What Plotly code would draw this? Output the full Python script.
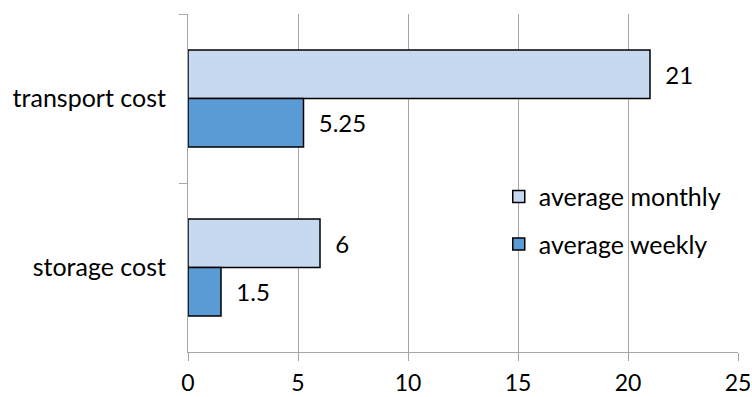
import plotly.graph_objects as go

categories = ["transport cost", "storage cost"]
monthly = [21, 6]
weekly = [5.25, 1.5]
series_names = ["average monthly", "average weekly"]
x_ticks = [0, 5, 10, 15, 20, 25]

FONT = "Lato"
SIZE = 25
TICK_SIZE = 23
GRID = "#A6A6A6"
PAD = "\u00a0\u00a0"

fig = go.Figure()
for name, vals, color in [
    (series_names[0], monthly, "#C6D9F1"),
    (series_names[1], weekly, "#5B9BD5"),
]:
    fig.add_trace(go.Bar(
        y=categories, x=vals, orientation="h", name=name,
        legendgroup=name,
        marker=dict(color=color, line=dict(color="black", width=1.5)),
        text=[PAD + f"{v:g}" for v in vals],
        textposition="outside", cliponaxis=False,
        textfont=dict(family=FONT, size=SIZE - 1, color="black"),
    ))

fig.update_layout(
    width=752, height=397,
    margin=dict(l=188, r=14, t=14, b=45),
    paper_bgcolor="white", plot_bgcolor="white",
    barmode="group", bargap=0.426, bargroupgap=0,
    font=dict(family=FONT, size=SIZE, color="black"),
    showlegend=True,
    legend=dict(
        x=0.565, y=0.39, xanchor="left", yanchor="middle",
        bgcolor="rgba(0,0,0,0)", traceorder="grouped",
        tracegroupgap=12, itemwidth=30,
        font=dict(family=FONT, size=SIZE, color="black"),
    ),
    xaxis=dict(
        range=[0, 25], tickvals=x_ticks, showgrid=True, gridcolor=GRID,
        gridwidth=1, zeroline=False, showline=True, linecolor=GRID,
        ticks="outside", ticklen=8, tickcolor=GRID, ticklabelstandoff=2,
        tickfont=dict(family=FONT, size=TICK_SIZE), automargin=False,
    ),
    yaxis=dict(
        autorange="reversed", showgrid=False, showline=True, linecolor=GRID,
        ticks="outside", tickson="boundaries", ticklen=8, tickcolor=GRID,
        ticklabelstandoff=16, tickfont=dict(family=FONT, size=SIZE),
        automargin=False,
    ),
)

fig.write_html("out.html")
